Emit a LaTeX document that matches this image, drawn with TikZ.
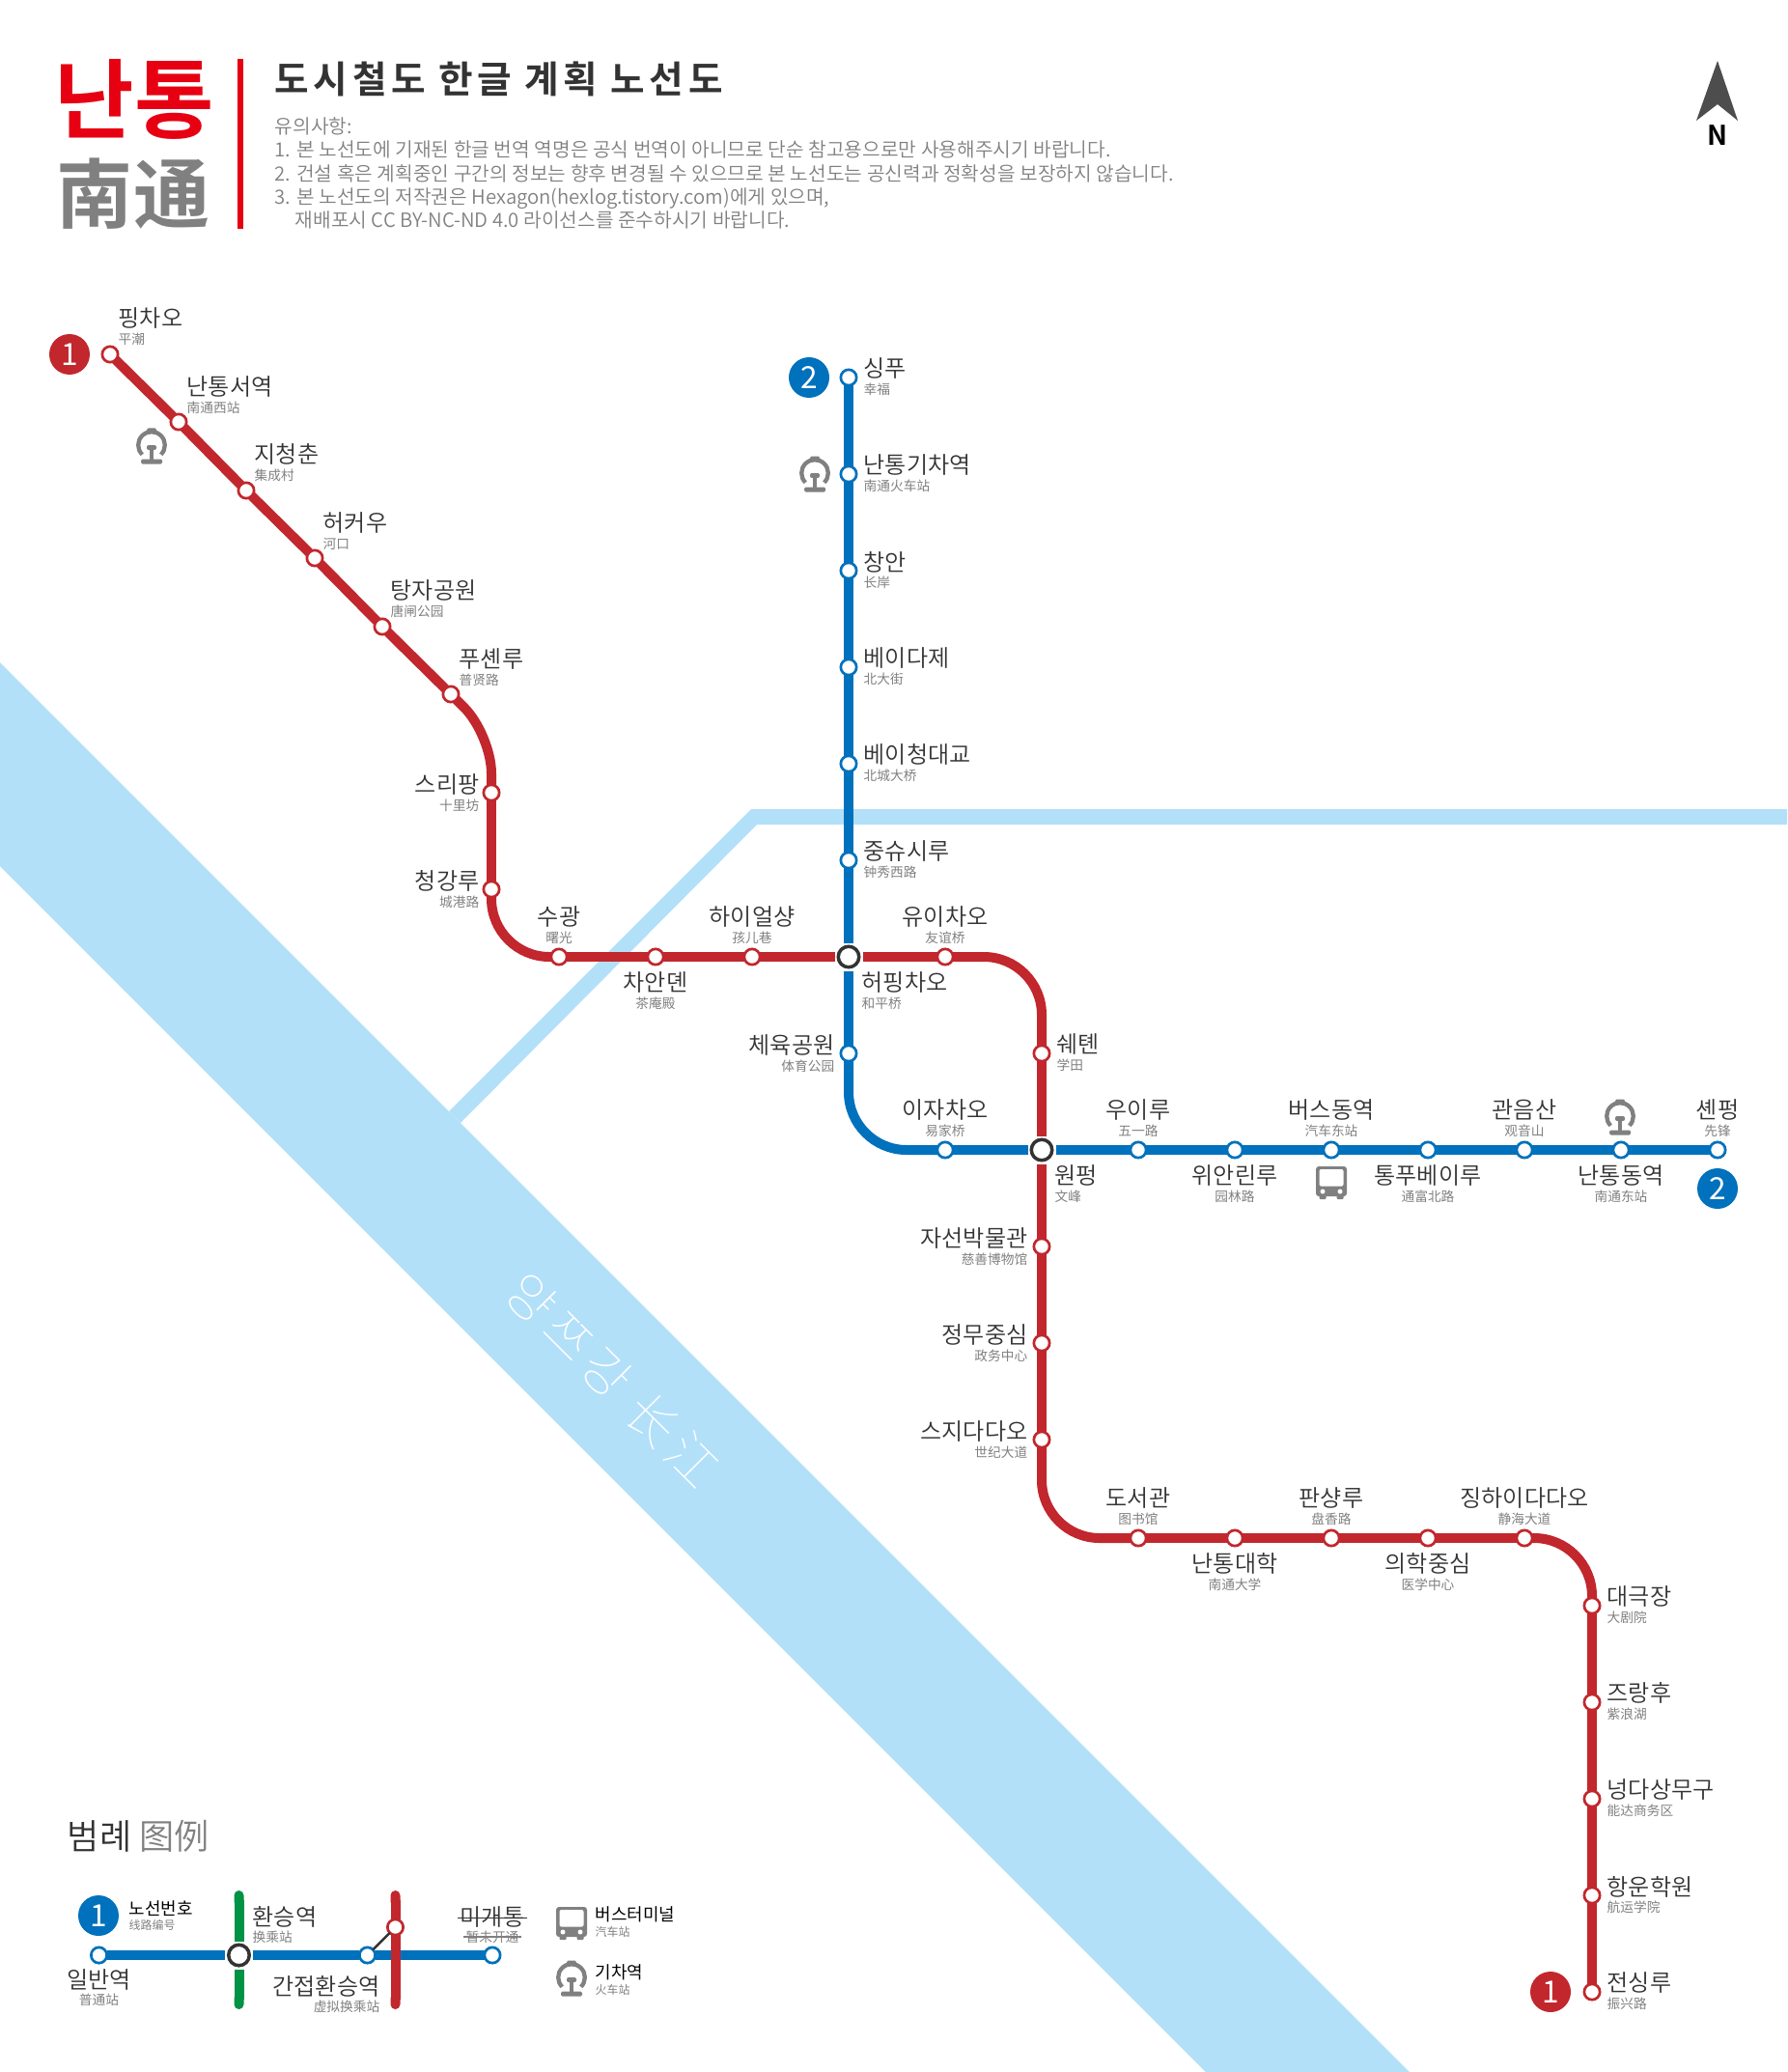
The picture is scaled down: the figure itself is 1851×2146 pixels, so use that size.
\documentclass[tikz,border=0pt]{standalone}
\usepackage{fontspec}
\setmainfont{Noto Sans CJK KR DemiLight}[BoldFont={Noto Sans CJK KR Bold}]
\newfontfamily\koreg{Noto Sans CJK KR}
\newfontfamily\kothin{Noto Sans CJK KR Thin}
\newfontfamily\zhfont{Noto Sans CJK SC DemiLight}
\newfontfamily\zhbold{Noto Sans CJK SC Bold}
\newfontfamily\zhreg{Noto Sans CJK SC}
\newfontfamily\zhthin{Noto Sans CJK SC Thin}
\usetikzlibrary{arrows.meta}
\definecolor{linered}{HTML}{C1272D}
\definecolor{lineblue}{HTML}{0071BC}
\definecolor{linegreen}{HTML}{009245}
\definecolor{rivercol}{HTML}{B3E0F9}
\definecolor{logored}{HTML}{E60012}
\definecolor{textdark}{HTML}{333333}
\definecolor{textgray}{HTML}{808080}
\definecolor{arrowgray}{HTML}{4D4D4D}
\newcommand{\stname}[2]{#1\\{\fontsize{3.9}{5.05}\selectfont\zhreg\color{textgray}#2}}
\tikzset{
  stnred/.style={circle, draw=linered, fill=white, line width=0.27mm, minimum size=1.63mm, inner sep=0pt, outer sep=0pt},
  stnblue/.style={stnred, draw=lineblue},
  stnswap/.style={circle, draw=textdark, fill=white, line width=0.35mm, minimum size=2.15mm, inner sep=0pt, outer sep=0.375mm},
  redline/.style={draw=linered, line width=1mm},
  blueline/.style={draw=lineblue, line width=1mm},
  greenline/.style={draw=linegreen, line width=1mm},
  lbbase/.style={inner sep=0pt, text=textdark, yshift=0.3pt, font=\fontsize{6.85}{5.05}\selectfont},
  lbcentre/.style={lbbase, align=center},
  lbright/.style={lbbase, align=left, anchor=west},
  lbleft/.style={lbbase, align=right, anchor=east},
  badgered/.style={circle, fill=linered, text=white, minimum size=4.2mm, inner sep=0pt, font=\koreg\fontsize{9}{9}\selectfont},
  badgeblue/.style={badgered, fill=lineblue},
  lgname/.style={inner sep=0pt, text=black, font=\koreg\fontsize{5.1}{6}\selectfont, anchor=west},
  lgsub/.style={inner sep=0pt, text=textgray, font=\zhreg\fontsize{3.4}{4}\selectfont, anchor=west},
  lgko/.style={inner sep=0pt, text=textdark, font=\fontsize{6.85}{7}\selectfont},
  lgzh/.style={inner sep=0pt, text=textgray, font=\zhreg\fontsize{3.9}{5}\selectfont},
  strikeline/.style={line width=0.13mm, shorten <=-0.2mm, shorten >=-0.2mm},
  trainicon/.pic={
    \draw[textgray, line width=0.43mm] (0,-1) ++(135:13.8) arc[start angle=135, end angle=405, radius=13.8];
    \fill[textgray, rounded corners=0.15mm] (-5,-18.5) rectangle (5,-13);
    \fill[textgray, rounded corners=0.2mm] (-5,-1) rectangle (5,4);
    \fill[textgray] (-1.9,2) rectangle (1.9,15);
    \fill[textgray, rounded corners=0.15mm] (-11,13.5) rectangle (11,18.5);
  },
  busicon/.pic={
    \fill[textgray, rounded corners=0.3mm] (-16,-17) rectangle (16,14);
    \fill[textgray, rounded corners=0.1mm] (-12.5,10) rectangle (-5.5,17);
    \fill[textgray, rounded corners=0.1mm] (5.5,10) rectangle (12.5,17);
    \fill[white, rounded corners=0.2mm] (-12.5,-14) rectangle (12.5,3.5);
    \fill[white] (-9,9) circle (2.5);
    \fill[white] (9,9) circle (2.5);
  },
}
\begin{document}
\begin{tikzpicture}[x=0.1mm, y=-0.1mm]
  \useasboundingbox (0,0) rectangle (1851,2146);

  \fill[rivercol] (0,686) -- (1460,2146) -- (1249,2146) -- (0,897) -- cycle;
  \fill[rivercol] (465,1151) -- (778,838) -- (1851,838) -- (1851,854) -- (784,854) -- (477,1163) -- cycle;
  \node[rotate=-45, text=white, inner sep=0pt, font=\kothin\fontsize{14.8}{15}\selectfont] (rivername) at (635,1429) {\addfontfeature{LetterSpace=13}양쯔강 {\zhthin\addfontfeature{LetterSpace=13}长江}};

  \node[inner sep=0pt, text=logored, font=\bfseries\fontsize{25.5}{26}\selectfont] (logoko) at (139,103) {난통};
  \node[inner sep=0pt, text=textgray, font=\zhbold\fontsize{22.5}{23}\selectfont] (logozh) at (138,201) {南通};
  \fill[logored] (246,61) rectangle (252,237);
  \node[inner sep=0pt, anchor=west, text=textdark, font=\bfseries\fontsize{11}{11}\selectfont] (maintitle) at (284,82) {\addfontfeature{LetterSpace=12}도시철도 한글 계획 노선도};
  \node[inner sep=0pt, anchor=north west, align=left, text=textgray, font=\fontsize{5.77}{6.92}\selectfont] (notes) at (284,121) {유의사항:\\
    1. 본 노선도에 기재된 한글 번역 역명은 공식 번역이 아니므로 단순 참고용으로만 사용해주시기 바랍니다.\\
    2. 건설 혹은 계획중인 구간의 정보는 향후 변경될 수 있으므로 본 노선도는 공신력과 정확성을 보장하지 않습니다.\\
    3. 본 노선도의 저작권은 Hexagon(hexlog.tistory.com)에게 있으며,\\
    \hspace*{6pt}재배포시 CC BY-NC-ND 4.0 라이선스를 준수하시기 바랍니다.};

  \fill[arrowgray] (1779,63) -- (1800,125) -- (1779,108) -- (1757,125) -- cycle;
  \node[inner sep=0pt, text=black, font=\bfseries\fontsize{8}{8}\selectfont] (north) at (1779,140) {N};

  \node[stnred] (pingchao) at (114,367) {};
  \node[stnred] (nantongxi) at (185,437) {};
  \node[stnred] (jicheng) at (255,508) {};
  \node[stnred] (hekou) at (326,578) {};
  \node[stnred] (tangzha) at (396,649) {};
  \node[stnred] (puxian) at (467,719) {};
  \coordinate (bendone) at (509,761);
  \node[stnred] (shilifang) at (509,821) {};
  \node[stnred] (chenggang) at (509,921) {};
  \node[stnred] (shuguang) at (579,991) {};
  \node[stnred] (chaan) at (679,991) {};
  \node[stnred] (haier) at (779,991) {};
  \node[stnswap] (heping) at (879,991) {};
  \node[stnred] (youyi) at (979,991) {};
  \node[stnred] (xuetian) at (1079,1091) {};
  \node[stnswap] (wenfeng) at (1079,1191) {};
  \node[stnred] (cishan) at (1079,1291) {};
  \node[stnred] (zhengwu) at (1079,1391) {};
  \node[stnred] (shiji) at (1079,1491) {};
  \node[stnred] (tushu) at (1179,1593) {};
  \node[stnred] (nantongda) at (1279,1593) {};
  \node[stnred] (panxiang) at (1379,1593) {};
  \node[stnred] (yixue) at (1479,1593) {};
  \node[stnred] (jinghai) at (1579,1593) {};
  \node[stnred] (dajuyuan) at (1649,1663) {};
  \node[stnred] (zilang) at (1649,1763) {};
  \node[stnred] (nengda) at (1649,1863) {};
  \node[stnred] (hangyun) at (1649,1963) {};
  \node[stnred] (zhenxing) at (1649,2063) {};

  \node[stnblue] (xingfu) at (879,391) {};
  \node[stnblue] (nantongzhan) at (879,491) {};
  \node[stnblue] (changan) at (879,591) {};
  \node[stnblue] (beida) at (879,691) {};
  \node[stnblue] (beicheng) at (879,791) {};
  \node[stnblue] (zhongxiu) at (879,891) {};
  \node[stnblue] (tiyu) at (879,1091) {};
  \node[stnblue] (yijia) at (979,1191) {};
  \node[stnblue] (wuyi) at (1179,1191) {};
  \node[stnblue] (yuanlin) at (1279,1191) {};
  \node[stnblue] (qiche) at (1379,1191) {};
  \node[stnblue] (tongfu) at (1479,1191) {};
  \node[stnblue] (guanyin) at (1579,1191) {};
  \node[stnblue] (nantongdong) at (1679,1191) {};
  \node[stnblue] (xianfeng) at (1779,1191) {};

  \draw[redline] (pingchao) -- (nantongxi);
  \draw[redline] (nantongxi) -- (jicheng);
  \draw[redline] (jicheng) -- (hekou);
  \draw[redline] (hekou) -- (tangzha);
  \draw[redline] (tangzha) -- (puxian);
  \draw[redline, rounded corners=4mm] (puxian) -- (bendone) -- (shilifang);
  \draw[redline] (shilifang) -- (chenggang);
  \draw[redline, rounded corners=6mm] (chenggang) |- (shuguang);
  \draw[redline] (shuguang) -- (chaan);
  \draw[redline] (chaan) -- (haier);
  \draw[redline] (haier) -- (heping);
  \draw[redline] (heping) -- (youyi);
  \draw[redline, rounded corners=6mm] (youyi) -| (xuetian);
  \draw[redline] (xuetian) -- (wenfeng);
  \draw[redline] (wenfeng) -- (cishan);
  \draw[redline] (cishan) -- (zhengwu);
  \draw[redline] (zhengwu) -- (shiji);
  \draw[redline, rounded corners=6mm] (shiji) |- (tushu);
  \draw[redline] (tushu) -- (nantongda);
  \draw[redline] (nantongda) -- (panxiang);
  \draw[redline] (panxiang) -- (yixue);
  \draw[redline] (yixue) -- (jinghai);
  \draw[redline, rounded corners=6mm] (jinghai) -| (dajuyuan);
  \draw[redline] (dajuyuan) -- (zilang);
  \draw[redline] (zilang) -- (nengda);
  \draw[redline] (nengda) -- (hangyun);
  \draw[redline] (hangyun) -- (zhenxing);

  \draw[blueline] (xingfu) -- (nantongzhan);
  \draw[blueline] (nantongzhan) -- (changan);
  \draw[blueline] (changan) -- (beida);
  \draw[blueline] (beida) -- (beicheng);
  \draw[blueline] (beicheng) -- (zhongxiu);
  \draw[blueline] (zhongxiu) -- (heping);
  \draw[blueline] (heping) -- (tiyu);
  \draw[blueline, rounded corners=6mm] (tiyu) |- (yijia);
  \draw[blueline] (yijia) -- (wenfeng);
  \draw[blueline] (wenfeng) -- (wuyi);
  \draw[blueline] (wuyi) -- (yuanlin);
  \draw[blueline] (yuanlin) -- (qiche);
  \draw[blueline] (qiche) -- (tongfu);
  \draw[blueline] (tongfu) -- (guanyin);
  \draw[blueline] (guanyin) -- (nantongdong);
  \draw[blueline] (nantongdong) -- (xianfeng);

  \node[badgered] (lineonea) at (72,367) {1};
  \node[badgered] (lineoneb) at (1606,2063) {1};
  \node[badgeblue] (linetwoa) at (838,391) {2};
  \node[badgeblue] (linetwob) at (1779,1231) {2};

  \pic at (157,462) {trainicon};
  \pic at (844,491) {trainicon};
  \pic at (1678,1157) {trainicon};
  \pic at (1379,1225) {busicon};

  \node[lbright] at (122,339) {\stname{핑차오}{平潮}};
  \node[lbright] at (193,410) {\stname{난통서역}{南通西站}};
  \node[lbright] at (263,480) {\stname{지청춘}{集成村}};
  \node[lbright] at (334,551) {\stname{허커우}{河口}};
  \node[lbright] at (404,621) {\stname{탕자공원}{唐闸公园}};
  \node[lbright] at (475,692) {\stname{푸셴루}{普贤路}};
  \node[lbleft] at (497,822) {\stname{스리팡}{十里坊}};
  \node[lbleft] at (497,922) {\stname{청강루}{城港路}};
  \node[lbcentre] at (579,959) {\stname{수광}{曙光}};
  \node[lbcentre] at (679,1027) {\stname{차안뎬}{茶庵殿}};
  \node[lbcentre] at (779,959) {\stname{하이얼샹}{孩儿巷}};
  \node[lbright] at (892,1027) {\stname{허핑차오}{和平桥}};
  \node[lbcentre] at (979,959) {\stname{유이차오}{友谊桥}};
  \node[lbright] at (1094,1091.5) {\stname{쉐톈}{学田}};
  \node[lbright] at (1092,1227) {\stname{원펑}{文峰}};
  \node[lbleft] at (1065,1292) {\stname{자선박물관}{慈善博物馆}};
  \node[lbleft] at (1065,1392) {\stname{정무중심}{政务中心}};
  \node[lbleft] at (1065,1492) {\stname{스지다다오}{世纪大道}};
  \node[lbcentre] at (1179,1561) {\stname{도서관}{图书馆}};
  \node[lbcentre] at (1279,1629) {\stname{난통대학}{南通大学}};
  \node[lbcentre] at (1379,1561) {\stname{판샹루}{盘香路}};
  \node[lbcentre] at (1479,1629) {\stname{의학중심}{医学中心}};
  \node[lbcentre] at (1579,1561) {\stname{징하이다다오}{静海大道}};
  \node[lbright] at (1664,1663.5) {\stname{대극장}{大剧院}};
  \node[lbright] at (1664,1763.5) {\stname{즈랑후}{紫浪湖}};
  \node[lbright] at (1664,1863.5) {\stname{넝다상무구}{能达商务区}};
  \node[lbright] at (1664,1963.5) {\stname{항운학원}{航运学院}};
  \node[lbright] at (1664,2063.5) {\stname{전싱루}{振兴路}};

  \node[lbright] at (894,391.5) {\stname{싱푸}{幸福}};
  \node[lbright] at (894,491.5) {\stname{난통기차역}{南通火车站}};
  \node[lbright] at (894,591.5) {\stname{창안}{长岸}};
  \node[lbright] at (894,691.5) {\stname{베이다제}{北大街}};
  \node[lbright] at (894,791.5) {\stname{베이청대교}{北城大桥}};
  \node[lbright] at (894,891.5) {\stname{중슈시루}{钟秀西路}};
  \node[lbleft] at (865,1092) {\stname{체육공원}{体育公园}};
  \node[lbcentre] at (979,1159) {\stname{이자차오}{易家桥}};
  \node[lbcentre] at (1179,1159) {\stname{우이루}{五一路}};
  \node[lbcentre] at (1279,1227) {\stname{위안린루}{园林路}};
  \node[lbcentre] at (1379,1159) {\stname{버스동역}{汽车东站}};
  \node[lbcentre] at (1479,1227) {\stname{통푸베이루}{通富北路}};
  \node[lbcentre] at (1579,1159) {\stname{관음산}{观音山}};
  \node[lbcentre] at (1679,1227) {\stname{난통동역}{南通东站}};
  \node[lbcentre] at (1779,1159) {\stname{셴펑}{先锋}};

  \node[inner sep=0pt, anchor=west, text=textdark, font=\fontsize{10.3}{10}\selectfont] (legendtitle) at (69,1902) {범례 {\color{textgray}\zhfont 图例}};

  \node[stnblue] (lgnormal) at (102.5,2025) {};
  \node[stnswap] (lgswap) at (247.5,2025) {};
  \node[stnblue] (lgvirtual) at (380.5,2025) {};
  \node[stnblue] (lgunopen) at (510,2025) {};
  \node[stnred] (lgredstn) at (409.5,1996) {};
  \coordinate (lggreentop) at (247.5,1958);
  \coordinate (lggreenbot) at (247.5,2081);
  \coordinate (lgredtop) at (409.5,1958);
  \coordinate (lgredbot) at (409.5,2081);
  \draw[blueline] (lgnormal) -- (lgswap);
  \draw[blueline] (lgswap) -- (lgvirtual);
  \draw[blueline] (lgvirtual) -- (lgunopen);
  \draw[greenline, {Round Cap[]}-] (lggreentop) -- (lgswap);
  \draw[greenline, {Round Cap[]}-] (lggreenbot) -- (lgswap);
  \draw[redline, {Round Cap[]}-] (lgredtop) -- (lgredstn);
  \draw[redline, {Round Cap[]}-] (lgredbot) -- (lgredstn);
  \draw[draw=textdark, line width=0.25mm] (lgvirtual) -- (lgredstn);

  \node[badgeblue] (lgbadge) at (102,1984) {1};
  \node[lgname] (lgbadgename) at (133,1977) {노선번호};
  \node[lgsub] (lgbadgesub) at (133,1994) {线路编号};
  \node[lgko, anchor=west] (lgswapname) at (261,1985) {환승역};
  \node[lgzh, anchor=west] (lgswapsub) at (261,2006) {换乘站};
  \node[lgko] (lgnormalname) at (102.5,2050) {일반역};
  \node[lgzh] (lgnormalsub) at (102.5,2071) {普通站};
  \node[lgko, anchor=east] (lgvirtualname) at (394,2057) {간접환승역};
  \node[lgzh, anchor=east] (lgvirtualsub) at (394,2078) {虚拟换乘站};
  \node[lgko] (lgunopenname) at (510,1985) {미개통};
  \node[lgzh] (lgunopensub) at (510,2006) {暂未开通};
  \draw[strikeline, draw=textdark] ([yshift=-0.5pt]lgunopenname.west) -- ([yshift=-0.5pt]lgunopenname.east);
  \draw[strikeline, draw=textgray] (lgunopensub.west) -- (lgunopensub.east);

  \pic at (592,1992) {busicon};
  \pic at (592,2049) {trainicon};
  \node[lgname] (lgbusname) at (616,1983) {버스터미널};
  \node[lgsub] (lgbussub) at (616,2001) {汽车站};
  \node[lgname] (lgtrainname) at (616,2043) {기차역};
  \node[lgsub] (lgtrainsub) at (616,2061) {火车站};
\end{tikzpicture}
\end{document}
